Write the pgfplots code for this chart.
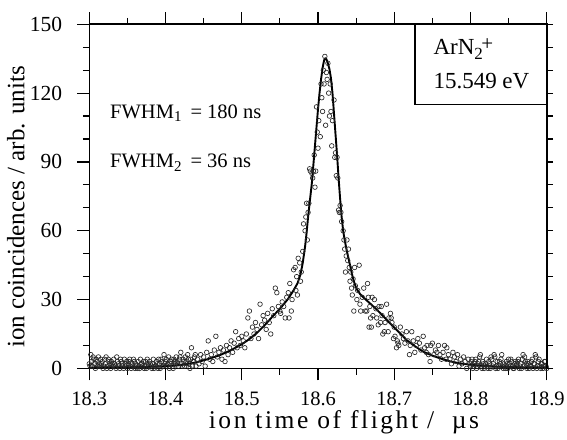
\documentclass[border=0pt]{standalone}
\usepackage{fontspec}
\setmainfont{Liberation Serif}
\usepackage{pgfplots}
\pgfplotsset{compat=1.18}
\begin{document}
\begin{tikzpicture}
\begin{axis}[name=ax, scale only axis, width=457.4bp, height=344.1bp,
  xmin=18.3, xmax=18.9, ymin=0, ymax=150,
  xtick={18.3,18.4,18.5,18.6,18.7,18.8,18.9},
  xticklabels={18.3,18.4,18.5,18.6,18.7,18.8,18.9},
  minor xtick={18.35,18.45,18.55,18.65,18.75,18.85},
  ytick={0,30,60,90,120,150}, yticklabels={0,30,60,90,120,150},
  minor ytick={10,20,40,50,70,80,100,110,130,140},
  ytick pos=left, xtick pos=both,
  tick align=outside, major tick length=12bp, minor tick length=6.5bp,
  tick style={line width=1.2bp, black},
  axis line style={line width=1.6bp},
  xticklabel style={anchor=base, inner sep=0pt, yshift=-25bp, font=\fontsize{20.5bp}{24bp}\selectfont},
  yticklabel style={anchor=east, inner sep=0pt, xshift=-15bp, font=\fontsize{21.5bp}{24bp}\selectfont},
  xlabel={ion time of flight /\ \ µs},
  xlabel style={at={(axis description cs:0.5568,-0.1732)}, anchor=base, inner sep=0pt,
    font=\fontsize{25.5bp}{30bp}\selectfont\addfontfeatures{LetterSpace=10}},
  ylabel={ion coincidences / arb. units},
  ylabel style={at={(axis description cs:-0.1421,0.4691)}, anchor=base, inner sep=0pt,
    font=\fontsize{25bp}{30bp}\selectfont},
  clip=false,
]
\addplot[only marks, mark=o, mark size=2.3bp, mark options={line width=0.65bp, draw=black!85}] coordinates {
(18.300,2)(18.302,6)(18.304,1)(18.306,4)(18.308,0)(18.310,3)(18.312,5)(18.314,1)(18.316,2)(18.318,0)
(18.320,4)(18.322,5)(18.324,1)(18.326,3)(18.328,0)(18.330,2)(18.332,4)(18.334,1)(18.336,5)(18.338,2)
(18.340,0)(18.342,3)(18.344,1)(18.346,4)(18.348,2)(18.350,0)(18.352,3)(18.354,1)(18.356,2)(18.358,4)
(18.360,0)(18.362,1)(18.364,3)(18.366,0)(18.368,2)(18.370,1)(18.372,0)(18.374,3)(18.376,4)(18.378,1)
(18.380,2)(18.382,0)(18.384,4)(18.386,1)(18.388,3)(18.390,0)(18.392,2)(18.394,4)(18.396,1)(18.398,6)
(18.400,3)(18.402,1)(18.404,5)(18.406,2)(18.408,4)(18.410,0)(18.412,3)(18.414,5)(18.416,2)(18.418,4)
(18.420,7)(18.422,1)(18.424,3)(18.426,5)(18.428,2)(18.430,4)(18.432,0)(18.434,9)(18.436,3)(18.438,5)(18.440,1)
(18.301,1)(18.303,3)(18.305,5)(18.307,2)(18.309,4)(18.311,1)(18.313,2)(18.315,4)(18.317,3)(18.319,1)
(18.321,2)(18.323,0)(18.325,4)(18.327,2)(18.329,3)(18.331,1)(18.333,2)(18.335,0)(18.337,3)(18.339,1)
(18.341,4)(18.343,2)(18.345,0)(18.347,1)(18.349,3)(18.351,2)(18.353,4)(18.355,0)(18.357,1)(18.359,3)
(18.361,2)(18.363,0)(18.365,1)(18.367,4)(18.369,2)(18.371,3)(18.373,1)(18.375,0)(18.377,2)(18.379,3)
(18.381,1)(18.383,2)(18.385,0)(18.387,1)(18.389,2)(18.391,4)(18.393,0)(18.395,3)(18.397,1)(18.399,2)
(18.401,4)(18.403,2)(18.405,0)(18.407,3)(18.409,1)(18.411,4)(18.413,2)(18.415,3)(18.417,1)(18.419,5)
(18.421,2)(18.423,4)(18.425,1)(18.427,3)(18.429,6)(18.431,2)(18.433,4)(18.435,1)(18.437,3)(18.439,6)
(18.442,4)(18.444,2)(18.446,6)(18.448,3)(18.450,5)(18.452,1)(18.454,7)(18.456,12)(18.458,4)(18.460,6)
(18.462,3)(18.464,8)(18.466,14)(18.468,5)(18.470,7)(18.472,9)(18.474,4)(18.476,8)(18.478,3)(18.480,10)
(18.482,6)(18.484,9)(18.486,12)(18.488,7)(18.490,11)(18.492,16)(18.494,9)(18.496,13)(18.498,10)(18.500,14)
(18.502,12)(18.504,9)(18.506,15)(18.508,22)(18.510,25)(18.512,13)(18.514,18)(18.516,15)(18.518,20)(18.520,17)
(18.522,13)(18.524,28)(18.526,19)(18.528,23)(18.530,21)(18.532,17)(18.534,24)(18.536,20)(18.538,15)(18.540,26)
(18.542,23)(18.544,35)(18.546,33)(18.548,27)(18.550,25)
(18.551,24)(18.553,29)(18.555,27)(18.557,22)(18.559,31)(18.561,33)(18.562,22)(18.563,37)(18.565,25)(18.566,30)
(18.568,43)(18.570,44)(18.571,34)(18.572,40)(18.573,32)(18.574,48)(18.576,46)(18.577,38)(18.578,42)(18.580,51)
(18.581,63)(18.583,60)(18.584,66)(18.585,72)(18.586,56)(18.587,68)(18.588,72)(18.589,87)(18.590,86)(18.592,85)
(18.593,83)(18.594,86)(18.595,93)(18.596,79)(18.597,86)(18.598,114)(18.599,103)(18.600,96)(18.601,108)(18.603,101)
(18.604,124)(18.605,118)(18.606,112)(18.607,130)(18.608,124)(18.609,136)(18.610,106)(18.611,129)(18.612,126)(18.613,133)
(18.614,120)(18.615,110)(18.616,124)(18.617,112)(18.618,97)(18.619,108)(18.621,117)(18.622,92)(18.623,94)(18.624,84)
(18.625,92)(18.626,83)(18.627,69)(18.628,68)(18.629,71)(18.630,68)(18.631,64)(18.633,60)(18.634,56)(18.635,52)
(18.636,42)(18.637,49)(18.638,56)(18.639,47)(18.640,52)(18.641,44)(18.642,38)(18.643,42)(18.644,35)(18.645,32)
(18.646,39)(18.647,25)(18.648,44)(18.649,36)(18.651,30)(18.652,34)(18.654,45)(18.655,28)(18.656,25)(18.658,31)
(18.660,35)(18.662,25)(18.664,25)(18.665,37)(18.666,31)(18.667,18)(18.668,27)(18.669,22)(18.670,18)(18.671,31)
(18.672,23)(18.674,30)(18.676,26)(18.677,22)(18.679,19)(18.680,27)
(18.682,20)(18.683,27)(18.684,23)(18.685,15)(18.687,16)(18.688,20)(18.690,28)(18.692,16)(18.693,22)(18.695,24)
(18.696,22)(18.697,20)(18.699,13)(18.700,18)(18.701,14)(18.703,9)(18.704,12)(18.705,11)(18.706,10)(18.708,18)
(18.710,15)(18.712,13)(18.714,11)(18.716,16)(18.718,12)(18.720,6)(18.721,10)(18.723,16)(18.725,12)(18.727,7)
(18.729,10)(18.731,13)(18.733,11)(18.735,8)(18.738,14)(18.740,9)(18.742,7)(18.743,10)(18.745,6)(18.747,3)
(18.748,10)(18.750,11)(18.752,6)(18.754,8)(18.756,7)(18.758,10)(18.760,6)(18.762,4)(18.764,7)(18.766,10)
(18.768,4)(18.769,9)(18.771,6)(18.773,4)(18.775,2)(18.777,7)(18.779,5)(18.781,3)(18.783,6)(18.785,1)
(18.787,4)(18.789,2)(18.791,5)(18.793,3)(18.795,0)(18.797,4)(18.799,2)
(18.801,3)(18.803,0)(18.805,2)(18.807,4)(18.809,1)(18.811,3)(18.813,6)(18.815,0)(18.817,2)(18.819,1)
(18.821,4)(18.823,0)(18.825,2)(18.827,5)(18.829,1)(18.831,6)(18.833,0)(18.835,3)(18.837,1)(18.839,2)
(18.841,6)(18.843,0)(18.845,1)(18.847,3)(18.849,0)(18.851,2)(18.853,4)(18.855,1)(18.857,0)(18.859,3)
(18.861,2)(18.863,4)(18.865,1)(18.867,0)(18.869,6)(18.871,5)(18.873,2)(18.875,3)(18.877,0)(18.879,1)
(18.881,4)(18.883,2)(18.885,6)(18.887,0)(18.889,3)(18.891,1)(18.893,2)(18.895,0)(18.897,3)(18.899,1)
(18.800,1)(18.802,4)(18.804,1)(18.806,3)(18.808,0)(18.810,2)(18.812,5)(18.814,1)(18.816,3)(18.818,0)
(18.820,2)(18.822,1)(18.824,3)(18.826,0)(18.828,4)(18.830,2)(18.832,5)(18.834,1)(18.836,0)(18.838,3)
(18.840,4)(18.842,1)(18.844,2)(18.846,0)(18.848,2)(18.850,4)(18.852,1)(18.854,3)(18.856,0)(18.858,2)
(18.860,1)(18.862,3)(18.864,0)(18.866,2)(18.868,4)(18.870,1)(18.872,3)(18.874,0)(18.876,2)(18.878,1)
(18.880,3)(18.882,0)(18.884,2)(18.886,5)(18.888,1)(18.890,4)(18.892,0)(18.894,2)(18.896,1)(18.898,3)(18.900,0)
};
\addplot[line width=1.9bp, black, line join=round] coordinates {
(18.300,0.4)(18.350,0.5)(18.380,0.7)(18.400,1.0)(18.420,1.5)(18.440,2.6)(18.455,4.0)(18.470,5.6)(18.485,7.8)
(18.500,10.5)(18.510,12.8)(18.520,15.5)(18.530,18.8)(18.540,22.5)(18.550,26.0)(18.560,30.0)(18.567,33.5)
(18.573,37)(18.577,41)(18.580,46)(18.583,53)(18.585,59)(18.587,66)(18.589,72)(18.592,81)(18.594,89)
(18.596,97)(18.598,105)(18.600,113)(18.602,120)(18.604,126)(18.606,131)(18.608,134.3)(18.6095,135.2)
(18.611,134.8)(18.613,133)(18.615,130.5)(18.617,126.5)(18.619,120)(18.621,111)(18.623,102)(18.625,93)
(18.627,83)(18.629,74)(18.631,66)(18.633,60)(18.635,56)(18.637,52.5)(18.639,49.5)(18.641,46.5)(18.643,43.5)
(18.645,40.5)(18.647,38)(18.649,36)(18.651,34.5)(18.655,32.5)(18.660,30.8)(18.665,29.3)(18.670,27.8)
(18.675,26.3)(18.682,24)(18.690,21.2)(18.699,18.2)(18.708,15.2)(18.716,12.4)(18.727,9.7)(18.738,7.3)
(18.749,5.7)(18.760,4.4)(18.773,3.1)(18.786,2.2)(18.800,1.6)(18.8125,1.2)(18.839,0.7)(18.870,0.45)(18.900,0.35)
};
\node[anchor=base west, inner sep=0pt, font=\fontsize{20.5bp}{24bp}\selectfont] at (axis description cs:0.0453,0.7272)
  {FWHM\raisebox{-3.3bp}{\fontsize{15bp}{15bp}\selectfont 1}\hspace{9bp}= 180 ns};
\node[anchor=base west, inner sep=0pt, font=\fontsize{20.5bp}{24bp}\selectfont] at (axis description cs:0.0453,0.5826)
  {FWHM\raisebox{-3.3bp}{\fontsize{15bp}{15bp}\selectfont 2}\hspace{9bp}= 36 ns};
\draw[line width=1.6bp] (axis description cs:0.7121,0.7675) rectangle (axis description cs:1,1);
\node[anchor=base west, inner sep=0pt, font=\fontsize{23bp}{27bp}\selectfont] at (axis description cs:0.7521,0.9108)
  {ArN\raisebox{-5bp}{\fontsize{17bp}{17bp}\selectfont 2}\kern-1.5bp\raisebox{4bp}{\fontsize{21bp}{21bp}\selectfont +}};
\node[anchor=base west, inner sep=0pt, font=\fontsize{23bp}{27bp}\selectfont] at (axis description cs:0.7521,0.814)
  {15.549 eV};
\end{axis}
\begin{axis}[scale only axis, width=457.4bp, height=344.1bp,
  xmin=18.3, xmax=18.9, ymin=0, ymax=150,
  axis x line=none, axis y line*=right,
  ytick={0,10,...,150}, yticklabels={},
  tick align=outside, major tick length=6.5bp,
  tick style={line width=1.2bp, black},
  axis line style={line width=1.6bp},
]
\end{axis}
\pgfresetboundingbox
\path[use as bounding box] ([shift={(-89.3bp,-70.6bp)}]ax.south west) rectangle ([shift={(20.3bp,24.3bp)}]ax.north east);
\end{tikzpicture}
\end{document}
